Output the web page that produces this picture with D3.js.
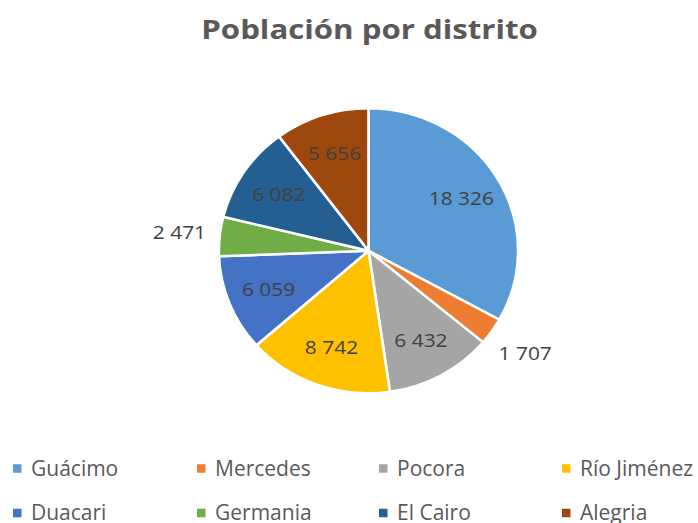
<!DOCTYPE html>
<html>
<head>
<meta charset="utf-8">
<script src="https://cdn.jsdelivr.net/npm/d3@7"></script>
<style>
  html, body { margin: 0; padding: 0; background: #fff; }
  svg { display: block; }
</style>
</head>
<body>
<svg id="chart" width="698" height="523"></svg>
<script>
const title = "Población por distrito";
const categories = ["Guácimo", "Mercedes", "Pocora", "Río Jiménez", "Duacari", "Germania", "El Cairo", "Alegria"];
const values = [18326, 1707, 6432, 8742, 6059, 2471, 6082, 5656];
const colors = ["#5B9BD5", "#ED7D31", "#A5A5A5", "#FFC000", "#4472C4", "#70AD47", "#255E91", "#9E480E"];

const W = 698, H = 523;
const cx = 368.5, cy = 250.8, R = 142.5, sx = 1.05;
const fontFamily = "'Open Sans', 'Liberation Sans', sans-serif";

const svg = d3.select("#chart");
const data = categories.map((c, i) => ({ name: c, value: values[i], color: colors[i] }));
const total = d3.sum(values);

const fmt = v => d3.format(",")(v).replace(/,/g, " ");

svg.append("text")
  .attr("transform", "translate(369.5,39) scale(1.2,1)")
  .attr("text-anchor", "middle")
  .attr("font-family", fontFamily)
  .attr("font-weight", "bold")
  .attr("font-size", 26)
  .attr("fill", "#595959")
  .text(title);

const pie = d3.pie().value(d => d.value).sort(null);
const arcs = pie(data);
const arc = d3.arc().innerRadius(0).outerRadius(R);
const inLabel = d3.arc().innerRadius(R * 0.72).outerRadius(R * 0.72);
const outLabel = d3.arc().innerRadius(R * 1.27).outerRadius(R * 1.27);

const g = svg.append("g").attr("transform", `translate(${cx},${cy}) scale(${sx},1)`);
g.selectAll("path.slice").data(arcs).join("path")
  .attr("class", "slice")
  .attr("d", arc)
  .attr("fill", d => d.data.color)
  .attr("stroke", "#fff")
  .attr("stroke-width", 2.5)
  .attr("stroke-linejoin", "round");

const lg = svg.append("g").attr("transform", `translate(${cx},${cy})`);
lg.selectAll("text.lbl").data(arcs).join("text")
  .attr("class", "lbl")
  .attr("transform", d => {
    const p = (d.data.value / total < 0.05 ? outLabel : inLabel).centroid(d);
    return `translate(${p[0] * sx},${p[1]}) scale(1.1,1)`;
  })
  .attr("text-anchor", "middle")
  .attr("dy", "0.35em")
  .attr("font-family", fontFamily)
  .attr("font-size", 19)
  .attr("fill", "#404040")
  .text(d => fmt(d.data.value));

// Legend
const colX = [13, 197, 379, 562];
const rowY = [468.5, 513];
const leg = svg.append("g");
data.forEach((d, i) => {
  const col = i % 4, row = Math.floor(i / 4);
  const x = colX[col], y = rowY[row];
  leg.append("rect")
    .attr("x", x).attr("y", y - 4.25)
    .attr("width", 8.5).attr("height", 8.5)
    .attr("fill", d.color);
  leg.append("text")
    .attr("x", x + 18).attr("y", y)
    .attr("dy", "0.35em")
    .attr("font-family", fontFamily)
    .attr("font-size", 21)
    .attr("fill", "#595959")
    .text(d.name);
});
</script>
</body>
</html>
